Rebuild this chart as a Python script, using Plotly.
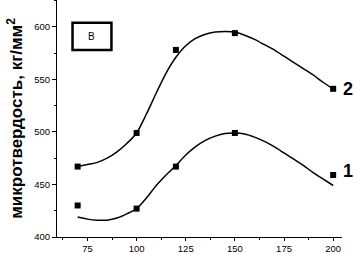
import plotly.graph_objects as go

# measured points
temp = [70, 100, 120, 150, 200]
hard_2 = [467, 499, 578, 594, 541]
hard_1 = [430, 427, 467, 499, 459]

# fitted curves
curve_x = [70, 75, 80, 85, 90, 95, 100, 105, 110, 115, 120, 125, 130, 135, 140,
           145, 150, 155, 160, 165, 170, 175, 180, 185, 190, 195, 200]
curve_2 = [467, 469, 471, 475, 481, 489, 499, 517, 537, 556, 571, 582, 589, 593, 595,
           595.5, 595, 592, 588, 583, 578, 572, 566, 560, 554, 547, 541]
curve_1 = [419, 417, 416, 416, 418, 422, 427, 437, 449, 459, 468, 478, 486, 492, 496,
           498.5, 499, 498, 495, 491, 486, 480, 474, 468, 461, 455, 449]

x_ticks = [75, 100, 125, 150, 175, 200]
y_ticks = [400, 450, 500, 550, 600]

fig = go.Figure()
for cy in (curve_2, curve_1):
    fig.add_trace(go.Scatter(x=curve_x, y=cy, mode="lines",
                             line=dict(color="black", width=1.5, shape="spline", smoothing=0.8),
                             hoverinfo="skip"))
for hy in (hard_2, hard_1):
    fig.add_trace(go.Scatter(x=temp, y=hy, mode="markers",
                             marker=dict(symbol="square", size=6, color="black")))

font_ticks = dict(family="Liberation Sans Narrow, Liberation Sans, Arial", size=9.5, color="black")

fig.update_layout(
    width=354, height=254,
    margin=dict(l=57, r=12, t=0, b=17),
    paper_bgcolor="white", plot_bgcolor="white",
    showlegend=False,
    xaxis=dict(range=[59.5, 204.5], tickvals=x_ticks, showgrid=False, zeroline=False,
               automargin=False,
               showline=True, linecolor="black", linewidth=1, ticks="outside", ticklen=3,
               tickcolor="black", tickfont=font_ticks,
               minor=dict(ticks="outside", ticklen=2, dtick=12.5, tick0=75, tickcolor="black")),
    yaxis=dict(range=[400, 625.5], tickvals=y_ticks, showgrid=False, zeroline=False,
               automargin=False,
               showline=True, linecolor="black", linewidth=1, ticks="outside", ticklen=4,
               tickcolor="black", tickfont=font_ticks,
               minor=dict(ticks="outside", ticklen=2, dtick=25, tick0=400, tickcolor="black"),
               title=dict(text="микротвердость, кг/мм<sup>2</sup>",
                          font=dict(family="Liberation Sans, Arial", size=17, color="black", weight="bold"),
                          standoff=7)),
)

fig.add_shape(type="rect", xref="x", yref="y", x0=67.4, x1=87.2, y0=578, y1=603.8,
              line=dict(color="black", width=2.5), fillcolor="white")
fig.add_annotation(x=77.3, y=591, xref="x", yref="y", text="В", showarrow=False,
                   font=dict(family="Liberation Sans, Arial", size=10, color="black"))
fig.add_annotation(x=1.0, y=541, xref="paper", yref="y", text="2", showarrow=False,
                   xanchor="left", xshift=-1,
                   font=dict(family="Liberation Sans, Arial", size=18, color="black", weight="bold"))
fig.add_annotation(x=1.0, y=463, xref="paper", yref="y", text="1", showarrow=False,
                   xanchor="left", xshift=-1,
                   font=dict(family="Liberation Sans, Arial", size=18, color="black", weight="bold"))

fig.write_html("out.html", config={"displayModeBar": False},
               post_script="document.body.style.margin='0';document.body.style.overflow='hidden';")
